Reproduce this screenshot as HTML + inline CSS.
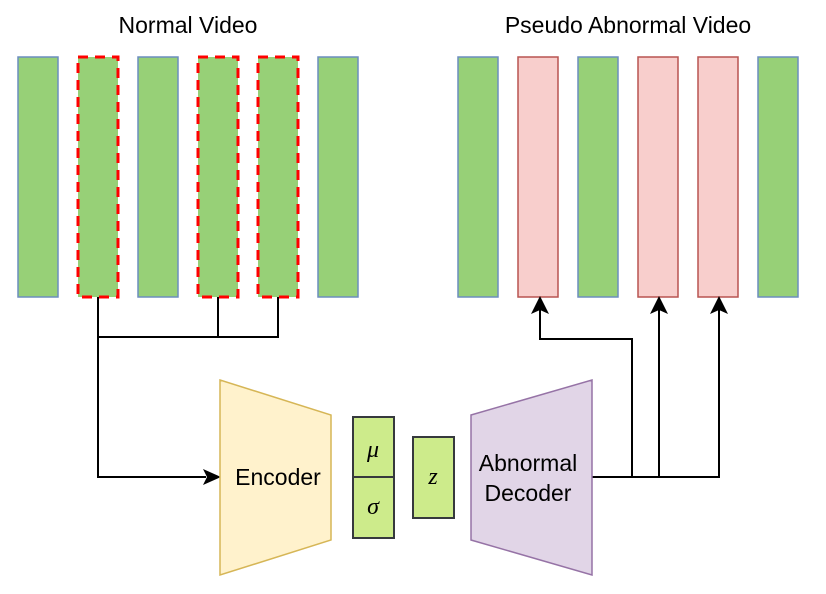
<!DOCTYPE html>
<html><head><style>body{margin:0;background:#fff}</style></head><body>
<svg width="826" height="589" xmlns="http://www.w3.org/2000/svg" font-family="Liberation Sans, Arial, sans-serif">
<rect width="826" height="589" fill="#fff"/>
<text x="188" y="33" font-size="23" text-anchor="middle">Normal Video</text>
<text x="628" y="33" font-size="23" text-anchor="middle">Pseudo Abnormal Video</text>
<g stroke="#6c8ebf" stroke-width="1.5" fill="#97d077">
<rect x="18" y="57" width="40" height="240"/>
<rect x="138" y="57" width="40" height="240"/>
<rect x="318" y="57" width="40" height="240"/>
<rect x="458" y="57" width="40" height="240"/>
<rect x="578" y="57" width="40" height="240"/>
<rect x="758" y="57" width="40" height="240"/>
</g>
<g stroke="#ff0000" stroke-width="3" stroke-dasharray="10,7" fill="#97d077">
<rect x="78" y="57" width="40" height="240"/>
<rect x="198" y="57" width="40" height="240"/>
<rect x="258" y="57" width="40" height="240"/>
</g>
<g stroke="#b85450" stroke-width="1.5" fill="#f8cecc">
<rect x="518" y="57" width="40" height="240"/>
<rect x="638" y="57" width="40" height="240"/>
<rect x="698" y="57" width="40" height="240"/>
</g>
<g stroke="#000" stroke-width="2" fill="none">
<path d="M98 297V337H278V297M218 297V337"/>
<path d="M98 337V477H206"/>
<path d="M592 477H719V310M659 477V310M632 477V339H540V310"/>
</g>
<g fill="#000">
<path d="M221 477L203 469L207 477L203 485Z"/>
<path d="M540 296L531 314L540 310L549 314Z"/>
<path d="M659 296L650 314L659 310L668 314Z"/>
<path d="M719 296L710 314L719 310L728 314Z"/>
</g>
<polygon points="220,380 331,415 331,540 220,575" fill="#fff2cc" stroke="#d6b656" stroke-width="1.5"/>
<text x="278" y="485" font-size="23" text-anchor="middle">Encoder</text>
<polygon points="471,415 592,380 592,575 471,540" fill="#e1d5e7" stroke="#9673a6" stroke-width="1.5"/>
<text x="528" y="471" font-size="23" text-anchor="middle">Abnormal</text>
<text x="528" y="501" font-size="23" text-anchor="middle">Decoder</text>
<g fill="#cdeb8b" stroke="#36393d" stroke-width="2">
<rect x="353" y="417" width="41" height="60"/>
<rect x="353" y="477" width="41" height="61"/>
<rect x="413" y="437" width="41" height="81"/>
</g>
<g font-family="Liberation Serif, serif" font-style="italic" font-size="24" text-anchor="middle">
<text x="373" y="457">μ</text>
<text x="373" y="514">σ</text>
<text x="433" y="484">z</text>
</g>
</svg>
</body></html>
